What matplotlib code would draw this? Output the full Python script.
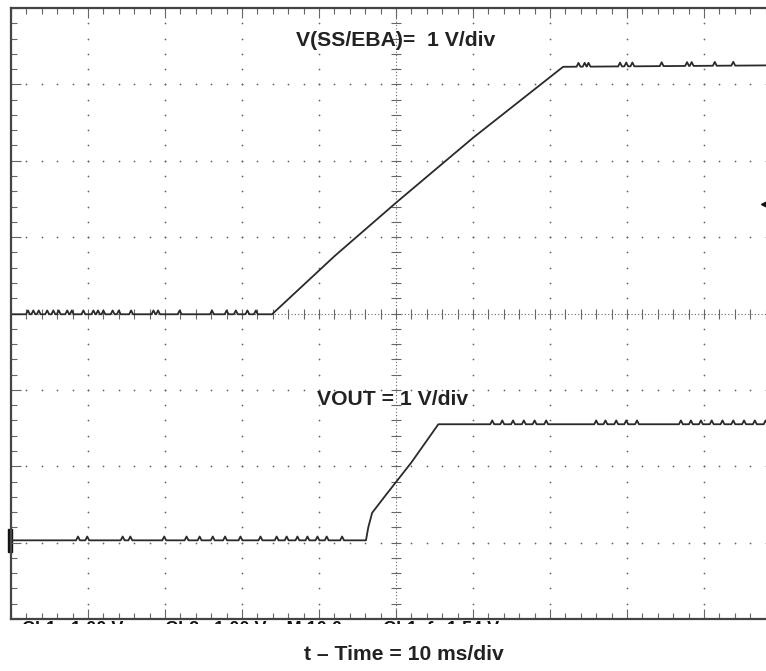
import numpy as np
import matplotlib.pyplot as plt
from matplotlib.transforms import IdentityTransform
from matplotlib.patches import Rectangle

# scope screen: x in divisions (10 ms/div), y in divisions from bottom (1 V/div)
ss_t = [0.0, 3.39, 3.55, 4.2, 5.0, 6.0, 7.17, 10.0]
ss_v = [3.99, 3.99, 4.14, 4.75, 5.45, 6.30, 7.23, 7.25]
vout_t = [0.0, 4.61, 4.64, 4.69, 4.85, 5.2, 5.55, 10.0]
vout_v = [1.03, 1.03, 1.20, 1.39, 1.60, 2.05, 2.55, 2.55]

# small glitches seen on the flat parts of the traces (div)
ss_glitch = [0.22, 0.29, 0.36, 0.47, 0.55, 0.62, 0.73, 0.79, 0.94, 1.07, 1.13, 1.20,
             1.32, 1.40, 1.56, 1.85, 1.91, 2.19, 2.61, 2.80, 2.92, 3.07, 3.18,
             7.37, 7.45, 7.50, 7.91, 7.99, 8.07, 8.45, 8.78, 8.84, 9.14, 9.38]
vout_glitch = [0.87, 0.99, 1.45, 1.55, 1.99, 2.28, 2.45, 2.62, 2.78, 2.98, 3.24, 3.45,
               3.58, 3.72, 3.85, 3.98, 4.10, 4.30,
               6.25, 6.38, 6.52, 6.66, 6.80, 6.95, 7.60, 7.72, 7.86, 7.99, 8.13,
               8.70, 8.83, 8.96, 9.10, 9.24, 9.38, 9.52, 9.66, 9.80]

ch2_ground = 1.03
trig_level = 5.43

labels = ["V(SS/EBA)=  1 V/div", "VOUT = 1 V/div"]
xlabel = "t \u2013 Time = 10 ms/div"
readout = "Ch1   1.00 V  \u25a0\u25a0  Ch2   1.00 V    M 10.0ms   Ch1  \u222b   1.54 V"

plt.rcParams['font.family'] = ['Liberation Sans', 'DejaVu Sans']


def with_glitches(t, v, glitch, h=0.05, w=0.025):
    pts = list(zip(t, v))
    for g in glitch:
        base = np.interp(g, t, v)
        pts += [(g - w, base), (g, base + h), (g + w, base)]
    pts.sort()
    x, y = zip(*pts)
    return x, y


fig = plt.figure(figsize=(7.66, 6.71), dpi=100)
ax = fig.add_axes([11 / 766, 52 / 671, 770 / 766, 611 / 671])
ax.set_xlim(0, 10)
ax.set_ylim(0, 8)

grid_c = "#666666"
minor_x = np.arange(0, 10.01, 0.2)
minor_y = np.arange(0, 8.01, 0.2)

# dotted graticule
for gx in range(1, 10):
    if gx == 5:
        continue
    ax.scatter(np.full(len(minor_y), gx), minor_y, s=1.6, color=grid_c, lw=0)
for gy in range(1, 8):
    if gy == 4:
        continue
    ax.scatter(minor_x, np.full(len(minor_x), gy), s=1.6, color=grid_c, lw=0)

# centre axes with ticks
ax.plot([5, 5], [0, 8], ls=(0, (1, 2)), lw=0.8, color=grid_c)
ax.plot([0, 10], [4, 4], ls=(0, (1, 2)), lw=0.8, color=grid_c)
ax.plot(np.full(len(minor_y), 5), minor_y, ls="none", marker="_", ms=7, mew=0.8, color=grid_c)
ax.plot(minor_x, np.full(len(minor_x), 4), ls="none", marker="|", ms=7, mew=0.8, color=grid_c)

# edge ticks
ax.set_xticks(range(0, 11))
ax.set_yticks(range(0, 9))
ax.set_xticks(minor_x, minor=True)
ax.set_yticks(minor_y, minor=True)
ax.tick_params(which="both", direction="in", top=True, bottom=True, left=True, right=False,
               labelbottom=False, labelleft=False, color=grid_c, width=0.8)
ax.tick_params(which="major", length=7)
ax.tick_params(which="minor", length=4)
for side in ["left", "top", "bottom"]:
    ax.spines[side].set_linewidth(1.6)
    ax.spines[side].set_color("#444444")
ax.spines["right"].set_visible(False)

# traces
x1, y1 = with_glitches(ss_t, ss_v, ss_glitch)
x2, y2 = with_glitches(vout_t, vout_v, vout_glitch)
ax.plot(x1, y1, color="#2a2a2a", lw=1.3)
ax.plot(x2, y2, color="#2a2a2a", lw=1.3)

# ground / trigger markers
ax.add_patch(Rectangle((-0.04, ch2_ground - 0.15), 0.05, 0.3, color="#111111", clip_on=False))
ax.plot([9.8], [trig_level], marker="<", ms=7, color="#111111", clip_on=False)

ax.text(4.99, 7.58, labels[0], ha="center", va="center", fontsize=15.2,
        fontweight="bold", color="#222222")
ax.text(4.95, 2.87, labels[1], ha="center", va="center", fontsize=15.2,
        fontweight="bold", color="#222222")

# scope readout, mostly cut off below the screen: only a sliver shows
ax.set_zorder(2)
ax.patch.set_visible(False)
fig.text(22, 50, readout, transform=IdentityTransform(), ha="left", va="top",
         fontsize=13, fontweight="bold", color="#111111", zorder=1)
fig.patches.append(Rectangle((0, 0), 1, 47.5 / 671, transform=fig.transFigure,
                             facecolor="white", edgecolor="none", zorder=1.5))

fig.text(0.527, 0.024, xlabel, ha="center", va="center", fontsize=15.2,
         fontweight="bold", color="#222222", zorder=5)

fig.savefig("out.png", dpi=100)
